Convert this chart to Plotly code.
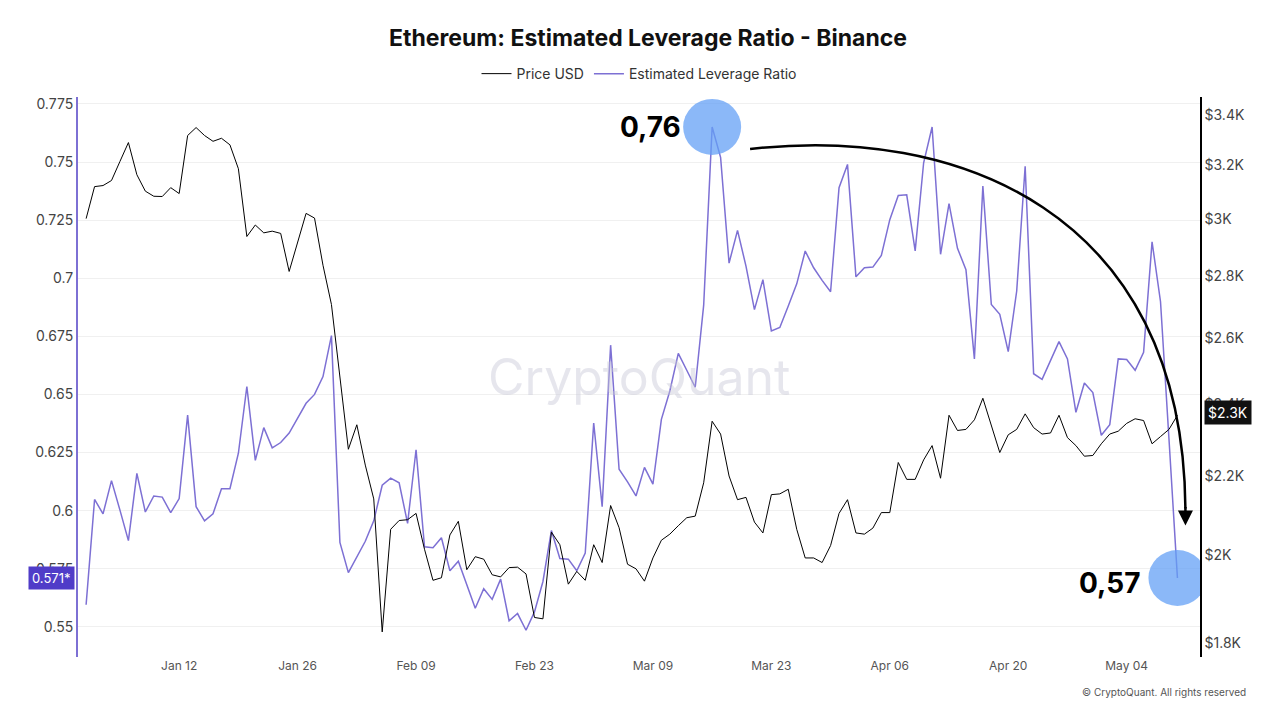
import pandas as pd
import plotly.graph_objects as go

# Daily data, 2025-01-01 .. 2025-05-10
dates = pd.date_range("2025-01-01", periods=130, freq="D")

leverage = [
    0.5595, 0.6048, 0.5986, 0.6129, 0.6002, 0.5871, 0.6160, 0.5994, 0.6063, 0.6058,
    0.5991, 0.6052, 0.6411, 0.6017, 0.5956, 0.5986, 0.6094, 0.6094, 0.6247, 0.6534,
    0.6216, 0.6357, 0.6270, 0.6293, 0.6334, 0.6400, 0.6462, 0.6500, 0.6577, 0.6753,
    0.5863, 0.5733, 0.5802, 0.5868, 0.5956,
    0.6109, 0.6140, 0.6120, 0.5945, 0.6262, 0.5844, 0.5840, 0.5883, 0.5741, 0.5782,
    0.5679, 0.5580, 0.5664, 0.5618, 0.5705, 0.5526, 0.5557, 0.5485, 0.5564, 0.5695,
    0.5914, 0.5794, 0.5791, 0.5741, 0.5817, 0.6377, 0.6017, 0.6712, 0.6178, 0.6124,
    0.6063, 0.6186, 0.6114, 0.6393, 0.6515,
    0.6677, 0.6604, 0.6531, 0.6884, 0.7651, 0.7520, 0.7065, 0.7206, 0.7052, 0.6865,
    0.6994, 0.6773, 0.6788, 0.6881, 0.6976, 0.7117, 0.7045, 0.6991, 0.6942, 0.7390,
    0.7490, 0.7006, 0.7045, 0.7048, 0.7098, 0.7252, 0.7356, 0.7359, 0.7118, 0.7497,
    0.7651, 0.7103, 0.7321,
    0.7129, 0.7037, 0.6653, 0.7397, 0.6887, 0.6845, 0.6684, 0.6945, 0.7482, 0.6589,
    0.6565, 0.6650, 0.6727, 0.6653, 0.6423, 0.6549, 0.6508, 0.6324, 0.6370, 0.6653,
    0.6650, 0.6604, 0.6681, 0.7157, 0.6899, 0.6308, 0.5710,
]

price = [
    3001, 3119, 3123, 3142, 3215, 3289, 3164, 3102, 3083, 3082,
    3115, 3093, 3317, 3349, 3317, 3294, 3306, 3280, 3187, 2937,
    2978, 2950, 2956, 2948, 2816, 2918, 3020, 3003, 2837, 2706,
    2478, 2273, 2341, 2230, 2141,
    1824, 2064, 2086, 2088, 2104, 2015, 1941, 1947, 2050, 2084,
    1966, 1997, 1991, 1954, 1949, 1971, 1972, 1956, 1856, 1853,
    2057, 2026, 1932, 1962, 1941, 2026, 1983, 2124, 2068, 1979,
    1968, 1939, 1994, 2037, 2052,
    2073, 2093, 2097, 2183, 2351, 2315, 2201, 2139, 2145, 2082,
    2055, 2152, 2154, 2166, 2064, 1994, 1994, 1983, 2024, 2104,
    2139, 2055, 2052, 2067, 2106, 2106, 2237, 2192, 2192, 2244,
    2283, 2195, 2368,
    2325, 2328, 2355, 2417, 2338, 2264, 2313, 2328, 2372, 2333,
    2315, 2318, 2368, 2305, 2283, 2254, 2256, 2288, 2315, 2323,
    2345, 2358, 2353, 2288, 2308, 2328, 2368,
]

left_ticks = [0.55, 0.575, 0.6, 0.625, 0.65, 0.675, 0.7, 0.725, 0.75, 0.775]
right_ticks = [1800, 2000, 2200, 2400, 2600, 2800, 3000, 3200, 3400]
right_text = ["$1.8K", "$2K", "$2.2K", "$2.4K", "$2.6K", "$2.8K", "$3K", "$3.2K", "$3.4K"]
date_ticks = pd.date_range("2025-01-12", periods=9, freq="14D")

PURPLE = "rgb(125, 112, 212)"
FONT = "Inter, Roboto, sans-serif"

fig = go.Figure()
fig.add_trace(go.Scatter(x=dates, y=price, name="Price USD", yaxis="y2",
                         mode="lines", line=dict(color="black", width=1)))
fig.add_trace(go.Scatter(x=dates, y=leverage, name="Estimated Leverage Ratio",
                         mode="lines", line=dict(color=PURPLE, width=1.5)))

fig.update_layout(
    width=1280, height=719,
    margin=dict(l=70, r=88, t=89, b=70),
    plot_bgcolor="white", paper_bgcolor="white",
    font=dict(family=FONT, size=14, color="#444"),
    title=dict(text="<b>Ethereum: Estimated Leverage Ratio - Binance</b>",
               x=0.5, xanchor="center", yref="container", y=0.958, yanchor="middle",
               font=dict(size=23, color="#111")),
    legend=dict(orientation="h", x=0.5, xanchor="center", y=1.041, yanchor="middle",
                font=dict(size=14, color="#333")),
    xaxis=dict(range=[pd.Timestamp("2024-12-31 01:00"), pd.Timestamp("2025-05-12 16:00")],
               tickvals=date_ticks, tickformat="%b %d", showgrid=False,
               ticks="", tickfont=dict(size=12, color="#555")),
    yaxis=dict(range=[0.537, 0.778], tickvals=left_ticks,
               ticktext=[f"{v:g}" for v in left_ticks],
               showgrid=True, gridcolor="#f0f0f0", zeroline=False,
               showline=True, linecolor=PURPLE, linewidth=2,
               tickfont=dict(size=14, color="#444")),
    yaxis2=dict(overlaying="y", side="right", type="log",
                range=[3.2479, 3.5409], tickvals=right_ticks, ticktext=right_text,
                showgrid=False, zeroline=False, showline=True,
                linecolor="black", linewidth=1.5,
                tickfont=dict(size=14, color="#444")),
)

# watermark and footer
fig.add_annotation(text="CryptoQuant", xref="paper", yref="paper", x=0.5, y=0.5,
                   showarrow=False, font=dict(size=50, color="rgba(200,200,215,0.45)"))
fig.add_annotation(text="© CryptoQuant. All rights reserved", xref="paper", yref="paper",
                   x=1.0425, y=-0.077, xanchor="right", showarrow=False,
                   font=dict(size=10, color="#555"))

# current value tags
fig.add_annotation(text="0.571*", xref="paper", y=leverage[-1], yref="y", x=-0.003,
                   xanchor="right", showarrow=False, bgcolor="rgb(80, 60, 200)",
                   font=dict(size=13, color="white"), borderpad=3)
fig.add_annotation(text="$2.3K", xref="paper", yref="y2", x=1.004, y=3.3756,
                   xanchor="left", showarrow=False, bgcolor="#111",
                   font=dict(size=14, color="white"), borderpad=3)

# highlight circles and labels
for i, label, dx in [(74, "<b>0,76</b>", -62), (129, "<b>0,57</b>", -68)]:
    fig.add_shape(type="circle", xref="x", yref="y", xsizemode="pixel", ysizemode="pixel",
                  xanchor=dates[i], yanchor=leverage[i], x0=-29, x1=29, y0=-28, y1=28,
                  fillcolor="rgba(100, 160, 245, 0.75)", line=dict(width=0), layer="above")
    fig.add_annotation(x=dates[i], y=leverage[i], xref="x", yref="y", text=label,
                       showarrow=False, xshift=dx, yshift=(0 if i == 74 else -5),
                       font=dict(size=28, color="black"))

# curved arrow
fig.add_shape(type="path", xref="paper", yref="paper",
              path="M 0.599,0.907 C 0.78,0.95 0.985,0.8 0.987,0.265",
              line=dict(color="black", width=2.5))
fig.add_annotation(xref="paper", yref="paper", x=0.987, y=0.235, ax=0, ay=-20,
                   showarrow=True, arrowhead=2, arrowsize=1.2, arrowwidth=2.5,
                   arrowcolor="black", text="")

fig.write_html("out.html")
